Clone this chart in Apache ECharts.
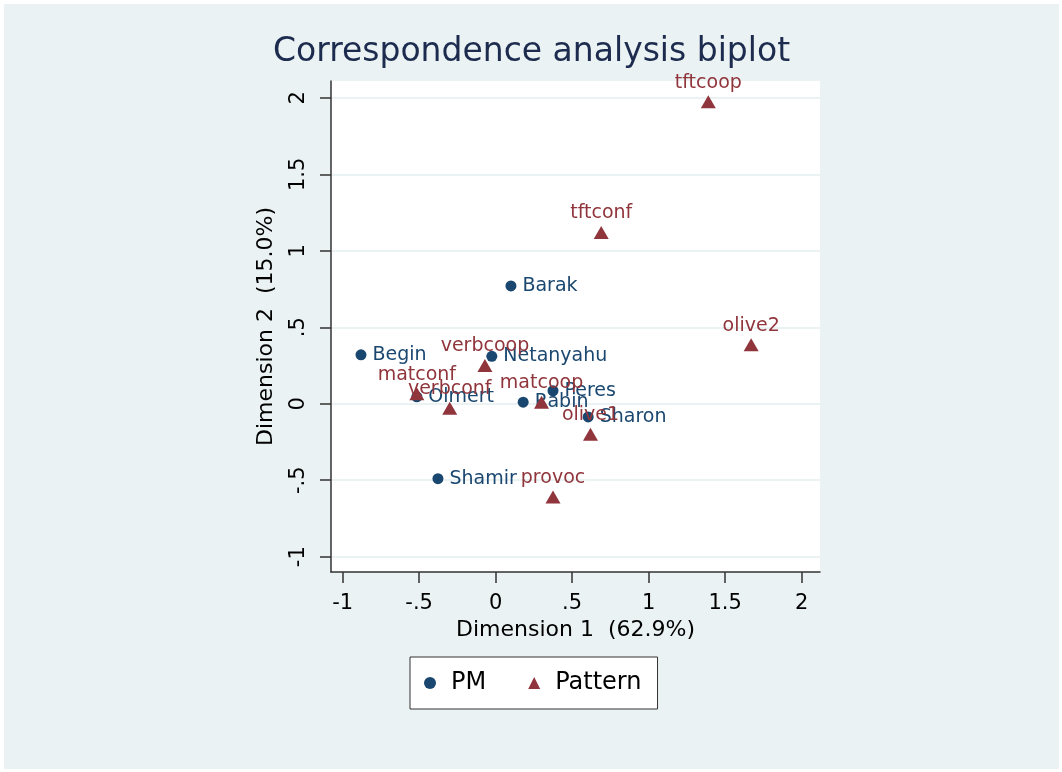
<!DOCTYPE html>
<html>
<head>
<meta charset="utf-8">
<script src="https://cdn.jsdelivr.net/npm/echarts@6/dist/echarts.min.js"></script>
<style>
html,body{margin:0;padding:0;background:#ffffff;}
#chart{position:absolute;left:4px;top:4px;width:1055px;height:765px;}
</style>
</head>
<body>
<div id="chart"></div>
<script>
const pmNames = ['Begin','Barak','Netanyahu','Olmert','Peres','Rabin','Sharon','Shamir'];
const pmX = [-0.88, 0.10, -0.025, -0.515, 0.375, 0.18, 0.605, -0.377];
const pmY = [0.32, 0.77, 0.31, 0.045, 0.085, 0.01, -0.086, -0.49];

const patNames = ['tftcoop','tftconf','olive2','verbcoop','matconf','verbconf','matcoop','olive1','provoc'];
const patX = [1.39, 0.69, 1.67, -0.07, -0.515, -0.30, 0.30, 0.62, 0.375];
const patY = [1.975, 1.12, 0.385, 0.25, 0.065, -0.03, 0.01, -0.20, -0.61];

const xTicks = [-1, -0.5, 0, 0.5, 1, 1.5, 2];
const yTicks = [-1, -0.5, 0, 0.5, 1, 1.5, 2];

const FONT = 'DejaVu Sans';
const NAVY = '#1a476f';
const MAROON = '#90353b';

function fmt(v){
  if (v === 0) return '0';
  let s = String(v);
  s = s.replace(/^(-?)0\./, '$1.');
  return s;
}

const chart = echarts.init(document.getElementById('chart'));
const option = {
  backgroundColor: '#eaf2f3',
  animation: false,
  textStyle: {fontFamily: FONT},
  title: {
    text: 'Correspondence analysis biplot',
    left: 'center',
    top: 27,
    textStyle: {fontFamily: FONT, fontSize: 33, fontWeight: 'normal', color: '#1c2b4e'}
  },
  legend: {
    left: 406,
    top: 653,
    backgroundColor: '#ffffff',
    borderColor: '#333333',
    borderWidth: 1,
    padding: [14, 16, 14, 14],
    itemGap: 42,
    itemWidth: 12,
    itemHeight: 12,
    textStyle: {fontFamily: FONT, fontSize: 24, color: '#000000', padding: [0, 0, 0, 10]},
    data: [{name: 'PM', icon: 'circle'}, {name: 'Pattern', icon: 'triangle'}]
  },
  grid: {
    left: 327, top: 77, width: 489, height: 491,
    show: true, backgroundColor: '#ffffff', borderWidth: 0
  },
  xAxis: {
    type: 'value',
    min: -1.076, max: 2.12,
    name: 'Dimension 1  (62.9%)',
    nameLocation: 'middle',
    nameGap: 47,
    nameTextStyle: {fontFamily: FONT, fontSize: 22, color: '#000000'},
    axisLine: {show: true, onZero: false, lineStyle: {color: '#333333', width: 1.5}},
    axisTick: {show: true, length: 11, customValues: xTicks, lineStyle: {color: '#333333', width: 1.5}},
    axisLabel: {customValues: xTicks, formatter: fmt, fontFamily: FONT, fontSize: 21, color: '#000000', margin: 21},
    splitLine: {show: false}
  },
  yAxis: {
    type: 'value',
    min: -1.10, max: 2.11,
    name: 'Dimension 2  (15.0%)',
    nameLocation: 'middle',
    nameGap: 54,
    nameTextStyle: {fontFamily: FONT, fontSize: 22, color: '#000000'},
    axisLine: {show: true, onZero: false, lineStyle: {color: '#333333', width: 1.5}},
    axisTick: {show: true, length: 11, customValues: yTicks, lineStyle: {color: '#333333', width: 1.5}},
    axisLabel: {customValues: yTicks, formatter: fmt, rotate: 90, fontFamily: FONT, fontSize: 21, color: '#000000', margin: 22},
    splitLine: {show: true, lineStyle: {color: '#eaf2f3', width: 2}}
  },
  series: [
    {
      name: 'PM',
      type: 'scatter',
      symbol: 'circle',
      symbolSize: 11,
      itemStyle: {color: NAVY, opacity: 1},
      label: {show: true, position: 'right', distance: 6, formatter: '{b}', fontFamily: FONT, fontSize: 19, color: NAVY},
      data: pmNames.map((n, i) => ({name: n, value: [pmX[i], pmY[i]]})),
      z: 3
    },
    {
      name: 'Pattern',
      type: 'scatter',
      symbol: 'triangle',
      symbolSize: [15, 13],
      itemStyle: {color: MAROON, opacity: 1},
      label: {show: true, position: 'top', distance: 3, formatter: '{b}', fontFamily: FONT, fontSize: 19, color: MAROON},
      data: patNames.map((n, i) => ({name: n, value: [patX[i], patY[i]]})),
      z: 4
    }
  ]
};
chart.setOption(option);
</script>
</body>
</html>
